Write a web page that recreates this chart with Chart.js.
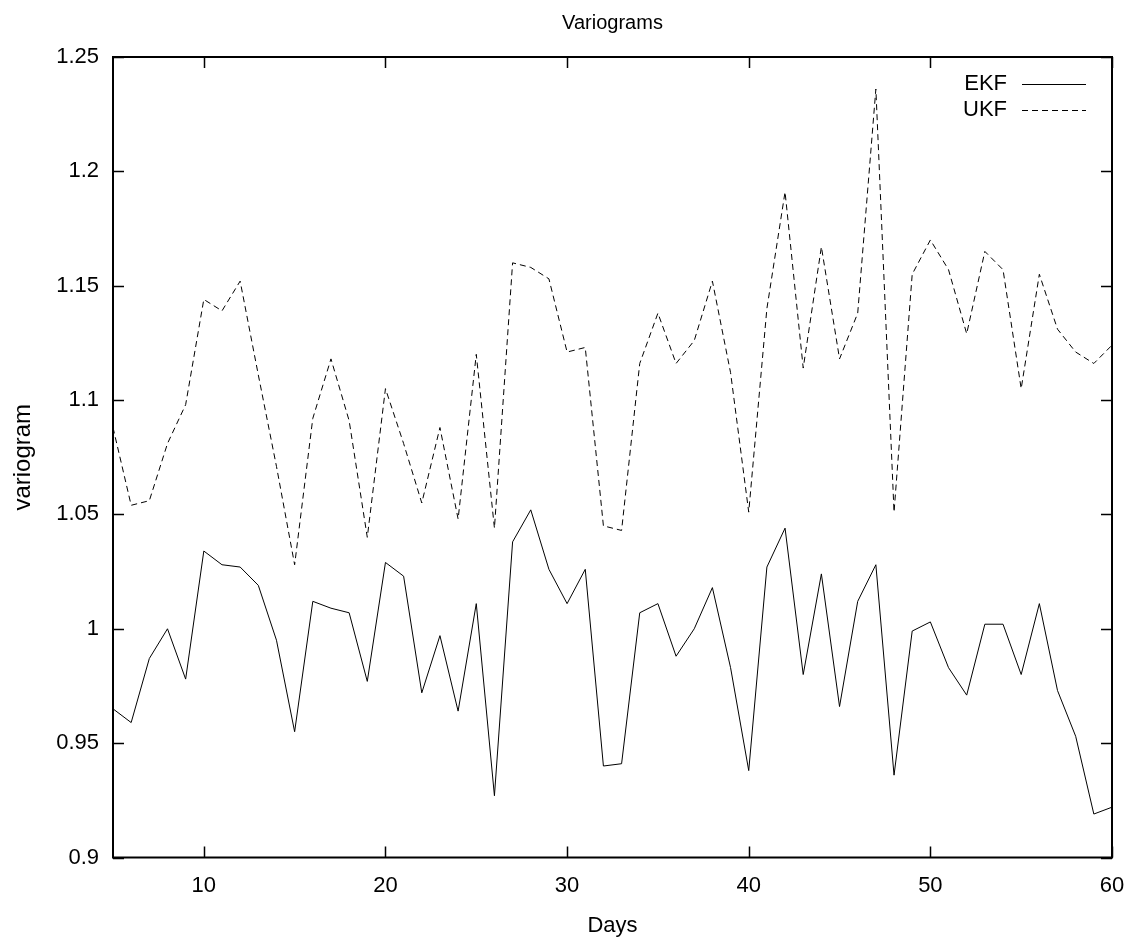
<!DOCTYPE html>
<html>
<head>
<meta charset="utf-8">
<script src="https://cdn.jsdelivr.net/npm/chart.js@4.4.1/dist/chart.umd.min.js"></script>
<style>
  html, body { margin: 0; padding: 0; background: #fff; }
  #wrap { width: 1135px; height: 944px; position: relative; }
</style>
</head>
<body>
<div id="wrap"><canvas id="c" width="1135" height="944"></canvas></div>
<script>
const days = [5,6,7,8,9,10,11,12,13,14,15,16,17,18,19,20,21,22,23,24,25,26,27,28,29,30,
  31,32,33,34,35,36,37,38,39,40,41,42,43,44,45,46,47,48,49,50,51,52,53,54,55,56,57,58,59,60];
const ekf = [0.965,0.959,0.987,1.000,0.978,1.034,1.028,1.027,1.019,0.995,0.955,1.012,1.009,1.007,0.977,
  1.029,1.023,0.972,0.997,0.964,1.011,0.927,1.038,1.052,1.026,1.011,1.026,0.940,0.941,1.007,1.011,
  0.988,1.000,1.018,0.983,0.938,1.027,1.044,0.980,1.024,0.966,1.012,1.028,0.936,0.999,1.003,0.983,
  0.971,1.002,1.002,0.980,1.011,0.973,0.953,0.919,0.922];
const ukf = [1.088,1.054,1.056,1.081,1.098,1.144,1.139,1.152,1.111,1.071,1.028,1.092,1.118,1.091,1.040,
  1.105,1.081,1.055,1.088,1.048,1.120,1.044,1.160,1.158,1.153,1.121,1.123,1.045,1.043,1.116,1.138,
  1.116,1.126,1.152,1.112,1.051,1.140,1.191,1.114,1.167,1.118,1.138,1.236,1.051,1.155,1.170,1.157,
  1.129,1.165,1.157,1.105,1.155,1.131,1.121,1.116,1.124];
const seriesNames = ['EKF', 'UKF'];
const xTickValues = [10, 20, 30, 40, 50, 60];
const titleText = 'Variograms';
const xTitle = 'Days';
const yTitle = 'variogram';

const FONT = "'Liberation Sans', Arial, sans-serif";

const framePlugin = {
  id: 'frame',
  afterDatasetsDraw(chart) {
    const {ctx, chartArea: a, scales} = chart;
    ctx.save();
    ctx.strokeStyle = '#000';
    ctx.lineWidth = 1.5;
    const tl = 11;
    scales.x.ticks.forEach(t => {
      const px = Math.round(scales.x.getPixelForValue(t.value)) + 0.5;
      ctx.beginPath();
      ctx.moveTo(px, a.bottom); ctx.lineTo(px, a.bottom - tl);
      ctx.moveTo(px, a.top); ctx.lineTo(px, a.top + tl);
      ctx.stroke();
    });
    scales.y.ticks.forEach(t => {
      const py = Math.round(scales.y.getPixelForValue(t.value)) + 0.5;
      ctx.beginPath();
      ctx.moveTo(a.left, py); ctx.lineTo(a.left + tl, py);
      ctx.moveTo(a.right, py); ctx.lineTo(a.right - tl, py);
      ctx.stroke();
    });
    ctx.lineWidth = 2;
    ctx.strokeRect(a.left, a.top, a.right - a.left, a.bottom - a.top);
    ctx.fillStyle = '#000';
    ctx.font = '20px ' + FONT;
    ctx.textAlign = 'center';
    ctx.textBaseline = 'middle';
    ctx.fillText(titleText, (a.left + a.right) / 2, 23);
    ctx.font = '22px ' + FONT;
    ctx.textAlign = 'right';
    chart.data.datasets.forEach((ds, i) => {
      const y = 84 + i * 26;
      ctx.fillText(ds.label, a.right - 105, y);
      ctx.save();
      ctx.lineWidth = ds.borderWidth;
      ctx.setLineDash(ds.borderDash || []);
      ctx.beginPath();
      ctx.moveTo(a.right - 90, y + 0.5);
      ctx.lineTo(a.right - 26, y + 0.5);
      ctx.stroke();
      ctx.restore();
    });
    ctx.restore();
  }
};

new Chart(document.getElementById('c'), {
  type: 'line',
  data: {
    datasets: [
      { label: seriesNames[0], data: days.map((d, i) => ({x: d, y: ekf[i]})),
        borderColor: '#000', borderWidth: 1, pointRadius: 0, tension: 0, fill: false },
      { label: seriesNames[1], data: days.map((d, i) => ({x: d, y: ukf[i]})),
        borderColor: '#000', borderWidth: 1, borderDash: [6, 4], pointRadius: 0, tension: 0, fill: false }
    ]
  },
  options: {
    responsive: false,
    animation: false,
    devicePixelRatio: 1,
    layout: { padding: { top: 57, right: 23, bottom: 0, left: 0 } },
    plugins: { legend: { display: false }, title: { display: false }, tooltip: { enabled: false } },
    scales: {
      x: {
        type: 'linear', min: 5, max: 60,
        afterBuildTicks: s => { s.ticks = xTickValues.map(v => ({value: v})); },
        afterFit: s => { s.height = 86.5; s.paddingLeft = 0; s.paddingRight = 0; },
        grid: { display: true, drawOnChartArea: false, drawTicks: false },
        border: { display: false },
        ticks: { color: '#000', font: { family: FONT, size: 22 }, padding: 15, maxRotation: 0 },
        title: { display: true, text: xTitle, color: '#000', font: { family: FONT, size: 22 }, padding: { top: 0, bottom: 5 } }
      },
      y: {
        type: 'linear', min: 0.9, max: 1.25,
        ticks: { stepSize: 0.05, color: '#000', font: { family: FONT, size: 22 }, padding: 14,
                 callback: v => String(+v.toFixed(2)) },
        afterFit: s => { s.width = 113; s.paddingTop = 0; s.paddingBottom = 0; },
        grid: { display: true, drawOnChartArea: false, drawTicks: false },
        border: { display: false },
        title: { display: true, text: yTitle, color: '#000', font: { family: FONT, size: 24 }, padding: { top: 9, bottom: 0 } }
      }
    }
  },
  plugins: [framePlugin]
});
</script>
</body>
</html>
